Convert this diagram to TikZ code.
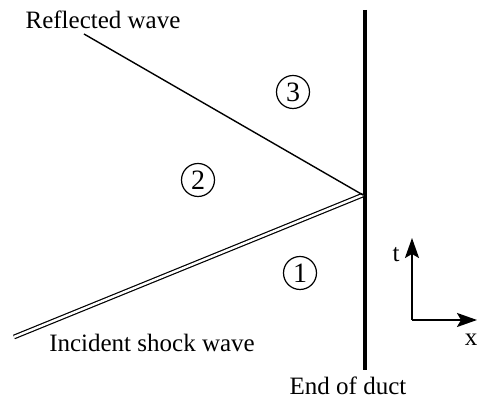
\documentclass[tikz,border=0pt]{standalone}
\usepackage{fontspec}
\setmainfont{Liberation Serif}
\usetikzlibrary{arrows.meta}

\begin{document}
\begin{tikzpicture}[x=0.5pt,y=0.5pt,font=\fontsize{12.5}{14}\selectfont,
  region/.style={circle,draw,line width=0.6pt,minimum size=16.5pt,inner sep=0pt,font=\fontsize{14}{14}\selectfont},
  wave/.style={line width=0.7pt},
  axis/.style={line width=1.1pt,-{Stealth[length=10pt,width=7pt,inset=2pt]}}]
\useasboundingbox (0,0) rectangle (477,400);
% closed end of the duct, shock reflects off it at (hit)
\coordinate (walltop) at (365,390);
\coordinate (wallbot) at (365,30);
\coordinate (hit) at (363,205);
\draw[line width=2pt] (walltop) -- (wallbot);
\node (endlab) at (348,14) {End of duct};
% incident shock (double line) and reflected wave
\coordinate (shockstart) at (14,63);
\coordinate (reflend) at (84,366);
\draw[double,double distance=1.2pt,line width=0.6pt] (shockstart) -- (hit);
\draw[wave] (hit) -- (reflend);
\node (refllab) at (103,380) {Reflected wave};
\node (shocklab) at (152,57) {Incident shock wave};
% gas states
\node[region] (s1) at (300,127) {1};
\node[region] (s2) at (198,220) {2};
\node[region] (s3) at (293,308) {3};
% x-t axes
\coordinate (origin) at (412,80);
\coordinate (ttip) at (412,162);
\coordinate (xtip) at (477,80);
\draw[axis] (origin) -- (ttip);
\draw[axis] (origin) -- (xtip);
\node (tlab) at (396,145) {t};
\node (xlab) at (471,60) {x};
\end{tikzpicture}
\end{document}
